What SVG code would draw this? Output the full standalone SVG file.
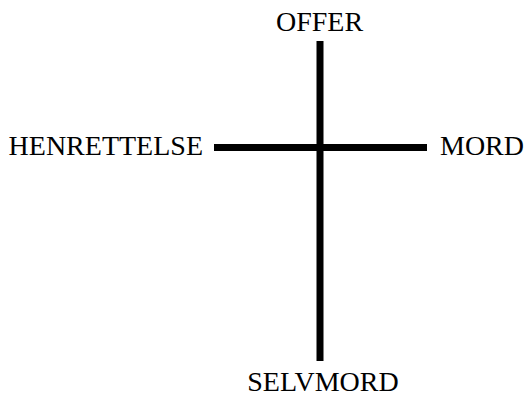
<svg xmlns="http://www.w3.org/2000/svg" width="525" height="397" viewBox="0 0 525 397">
<style>
.lbl{font-family:"Liberation Serif","Times New Roman",serif;font-size:28px;fill:#000}
.bar{stroke:#000;stroke-width:7;fill:none}
</style>
<rect width="525" height="397" fill="#fff"/>
<g id="connectors">
<line class="bar" x1="320" y1="41" x2="320" y2="361"/>
<line class="bar" x1="214" y1="147.5" x2="427" y2="147.5"/>
</g>
<g id="offer"><text class="lbl" x="319.5" y="31" text-anchor="middle">OFFER</text></g>
<g id="henrettelse"><text class="lbl" x="203" y="154.5" text-anchor="end">HENRETTELSE</text></g>
<g id="mord"><text class="lbl" x="440" y="154.5">MORD</text></g>
<g id="selvmord"><text class="lbl" x="323" y="391" text-anchor="middle">SELVMORD</text></g>
</svg>
